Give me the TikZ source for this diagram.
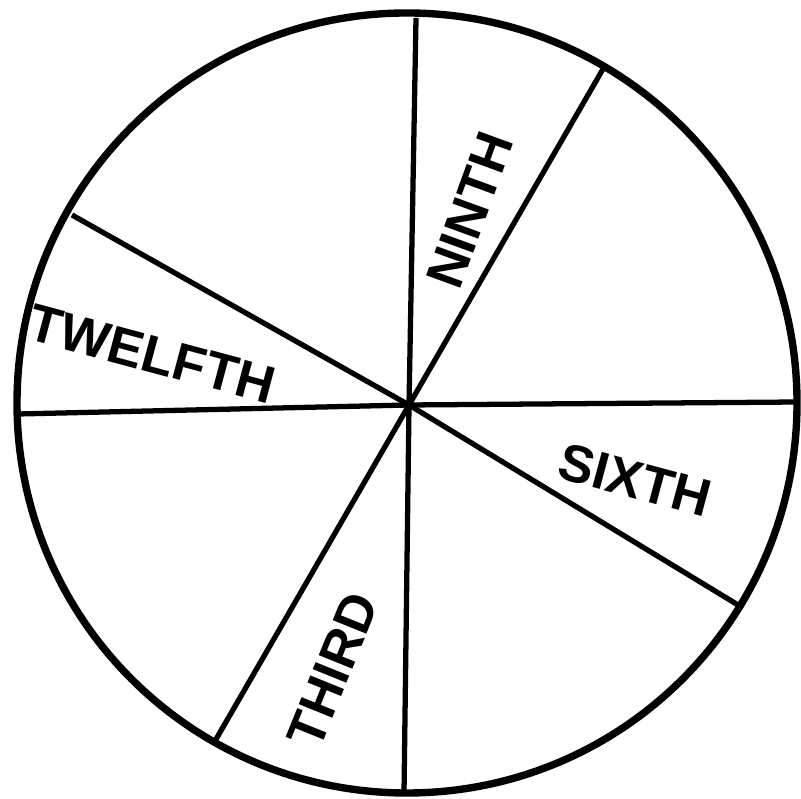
\documentclass[tikz,border=0pt]{standalone}
\usepackage{fontspec}
\setmainfont{Liberation Sans}
\usetikzlibrary{positioning}
\tikzset{
  rim/.style={line width=2.1pt},
  spoke/.style={line width=1.5pt},
  partlabel/.style={font=\fontsize{15}{15}\selectfont\bfseries,inner sep=0pt},
}
\begin{document}
\begin{tikzpicture}[x=1cm,y=1cm]
  \useasboundingbox (0,0) rectangle (8.01,7.98);
  % ===== wheel =====
  \coordinate (hub) at (4.09,3.93);
  \draw[rim] (4.07,3.95) circle (3.90);
  % spokes, from the hub out to the rim
  \foreach \ex/\ey in {4.16/7.80, 6.03/7.29, 7.98/3.96, 7.43/1.90,
                       4.04/0.05, 2.15/0.57, 0.18/3.84, 0.72/5.83}
    \draw[spoke] (hub)--(\ex,\ey);
  % ===== labels =====
  \node[partlabel,rotate=70] (ninth) at (4.70,5.88){NINTH};
  \node[partlabel,rotate=-15] (twelfth) at (1.52,4.44){TWELFTH};
  \node[partlabel,rotate=-15] (sixth) at (6.35,3.18){SIXTH};
  \node[partlabel,rotate=68] (third) at (3.33,1.28){THIRD};
\end{tikzpicture}
\end{document}
